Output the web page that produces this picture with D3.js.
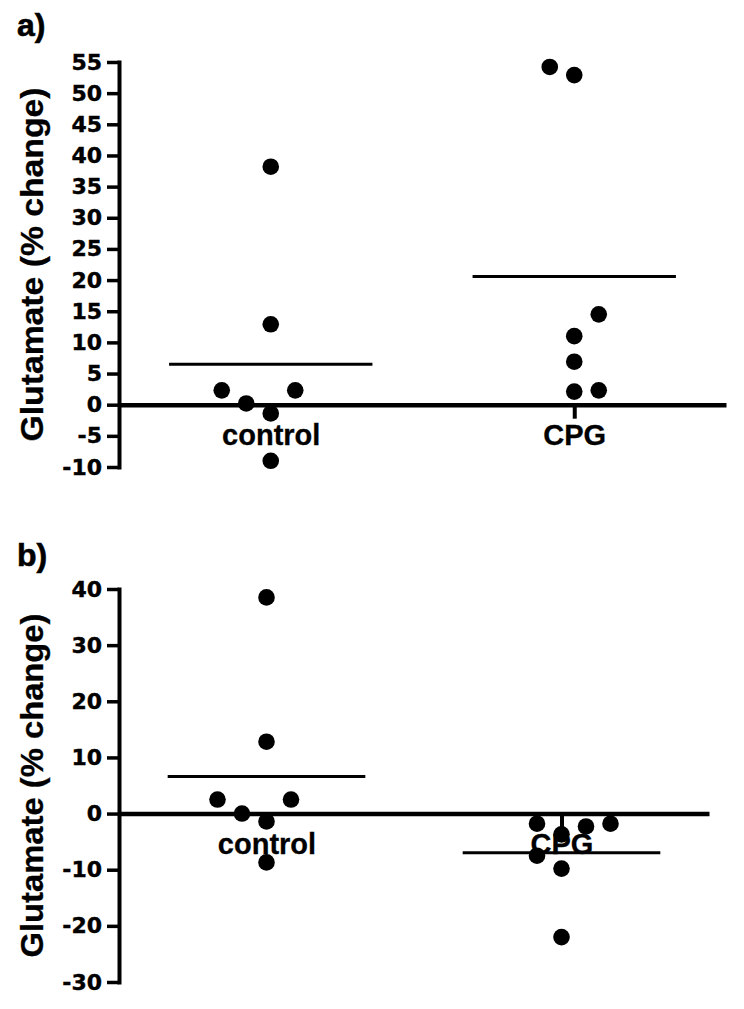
<!DOCTYPE html>
<html>
<head>
<meta charset="utf-8">
<script src="https://cdn.jsdelivr.net/npm/d3@7"></script>
<style>
  html, body { margin: 0; padding: 0; background: #fff; }
  svg { display: block; }
</style>
</head>
<body>
<svg id="chart" width="744" height="1009"></svg>
<script>
// ---------------- DATA ----------------
const categories = ["control", "CPG"];
const yTitle = "Glutamate (% change)";
const panelLabels = ["a)", "b)"];

// Panel a
const aControlValues = [38.2, 12.9, 2.3, 0.2, -1.4, 2.3, -9.0];
const aControlColumns = [0, 0, -2, -1, 0, 1, 0];
const aCPGValues = [54.2, 52.9, 14.5, 11.0, 6.9, 2.1, 2.3];
const aCPGColumns = [-1, 0, 1, 0, 0, 0, 1];
const aTicks = [-10, -5, 0, 5, 10, 15, 20, 25, 30, 35, 40, 45, 50, 55];

// Panel b
const bControlValues = [38.5, 12.8, 2.5, 0.0, -1.4, 2.5, -8.7];
const bControlColumns = [0, 0, -2, -1, 0, 1, 0];
const bCPGValues = [-1.8, -3.7, -2.3, -1.8, -7.5, -9.8, -22.0];
const bCPGColumns = [-1, 0, 1, 2, -1, 0, 0];
const bTicks = [-30, -20, -10, 0, 10, 20, 30, 40];

// ---------------- DRAW ----------------
const svg = d3.select("#chart");
const ARIAL = "'Liberation Sans', Arial, sans-serif";
const DEJAVU = "'DejaVu Sans', sans-serif";

function drawPanel(cfg) {
  const g = svg.append("g");
  const y = d3.scaleLinear().domain(cfg.yDomain).range(cfg.yRange);
  const x = d3.scalePoint().domain(categories).range(cfg.xRange).padding(0.5);
  const axisX = cfg.xRange[0];

  // panel label
  g.append("text")
    .attr("x", 17).attr("y", cfg.labelY)
    .attr("font-family", ARIAL).attr("font-weight", "bold")
    .attr("font-size", 32)
    .attr("stroke", "#000").attr("stroke-width", 0.6)
    .text(cfg.label);

  // y title
  const ty = (cfg.yRange[0] + cfg.yRange[1]) / 2 + cfg.titleShift;
  g.append("text")
    .attr("transform", `translate(43,${ty}) rotate(-90)`)
    .attr("text-anchor", "middle")
    .attr("font-family", ARIAL).attr("font-weight", "bold")
    .attr("font-size", 32)
    .attr("stroke", "#000").attr("stroke-width", 0.3)
    .attr("textLength", cfg.titleLen).attr("lengthAdjust", "spacingAndGlyphs")
    .text(yTitle);

  // y axis
  const yAxis = g.append("g")
    .attr("transform", `translate(${axisX},0)`)
    .call(d3.axisLeft(y).tickValues(cfg.ticks).tickFormat(d => String(d))
      .tickSizeInner(12).tickSizeOuter(0).tickPadding(5));
  yAxis.select(".domain").attr("stroke", "#000").attr("stroke-width", 4)
    .attr("stroke-linecap", "square");
  yAxis.selectAll(".tick line").attr("stroke", "#000").attr("stroke-width", 3.5);
  yAxis.selectAll(".tick text")
    .attr("font-family", DEJAVU).attr("font-weight", "bold")
    .attr("font-size", 22).attr("fill", "#000")
    .attr("stroke", "#000").attr("stroke-width", 0.4);

  // x axis at zero
  const xAxis = g.append("g")
    .attr("transform", `translate(0,${y(0)})`)
    .call(d3.axisBottom(x).tickSizeInner(14).tickSizeOuter(0).tickPadding(6));
  xAxis.select(".domain").attr("stroke", "#000").attr("stroke-width", 4.5);
  xAxis.selectAll(".tick line").attr("stroke", "#000").attr("stroke-width", 4);
  xAxis.selectAll(".tick text")
    .attr("font-family", ARIAL).attr("font-weight", "bold")
    .attr("font-size", 29).attr("fill", "#000")
    .attr("stroke", "#000").attr("stroke-width", 0.3);

  const step = x.step();
  const colW = 24.5;

  cfg.series.forEach(s => {
    const cx = x(s.cat);
    const mean = d3.mean(s.values);
    g.append("line")
      .attr("x1", cx - step * 0.335).attr("x2", cx + step * 0.335)
      .attr("y1", y(mean)).attr("y2", y(mean))
      .attr("stroke", "#000").attr("stroke-width", 3);
    g.selectAll(null).data(s.values.map((v, i) => ({ v, c: s.cols[i] })))
      .enter().append("circle")
      .attr("cx", d => cx + d.c * colW)
      .attr("cy", d => y(d.v))
      .attr("r", 8.3)
      .attr("fill", "#000");
  });
}

drawPanel({
  label: panelLabels[0], labelY: 36,
  yDomain: [-10, 55], yRange: [467, 62], ticks: aTicks,
  xRange: [119, 726],
  titleShift: 0, titleLen: 354,
  series: [
    { cat: categories[0], values: aControlValues, cols: aControlColumns },
    { cat: categories[1], values: aCPGValues, cols: aCPGColumns }
  ]
});

drawPanel({
  label: panelLabels[1], labelY: 566,
  yDomain: [-30, 40], yRange: [982, 589], ticks: bTicks,
  xRange: [119, 709],
  titleShift: 0, titleLen: 344,
  series: [
    { cat: categories[0], values: bControlValues, cols: bControlColumns },
    { cat: categories[1], values: bCPGValues, cols: bCPGColumns }
  ]
});
</script>
</body>
</html>
